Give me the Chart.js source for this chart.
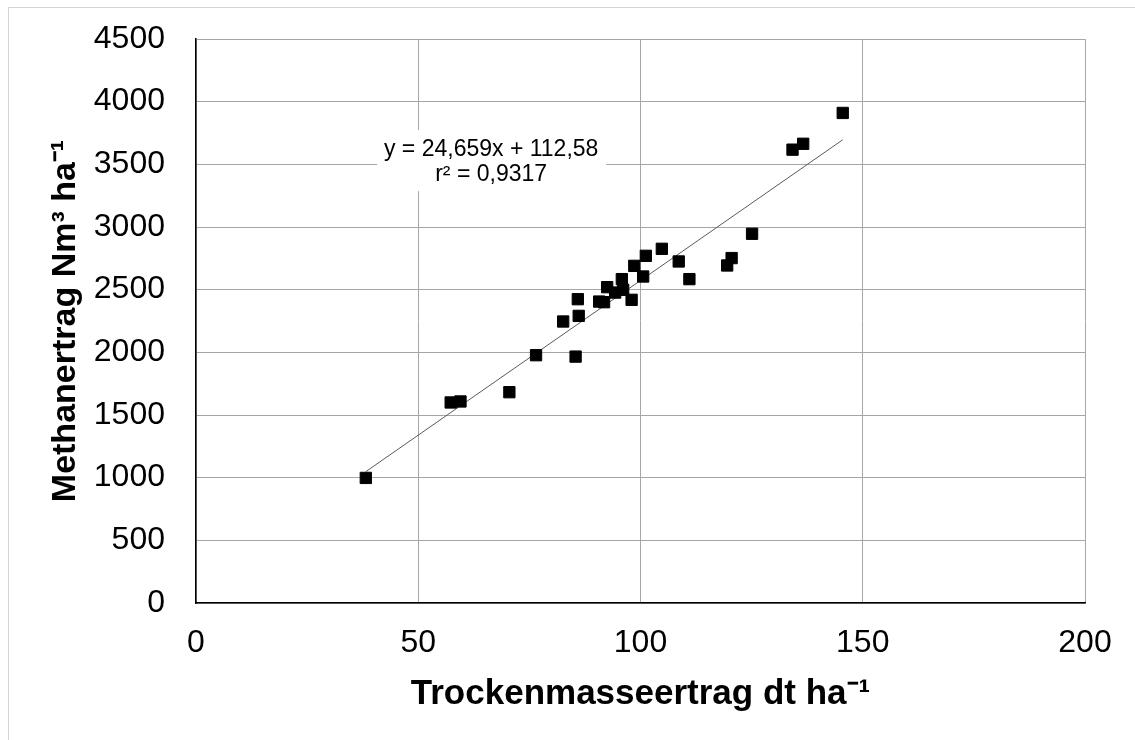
<!DOCTYPE html>
<html>
<head>
<meta charset="utf-8">
<script src="https://cdn.jsdelivr.net/npm/chart.js@4/dist/chart.umd.min.js"></script>
<style>
  html, body { margin: 0; padding: 0; background: #fff; }
</style>
</head>
<body>
<canvas id="methanChart" width="1135" height="740"></canvas>
<script>
// values
const dryMass = [38.2, 57.3, 59.5, 70.5, 76.5, 85.4, 82.6, 86.1, 85.9, 90.7, 91.8, 92.5, 94.3, 95.8,
  96.1, 98.0, 98.6, 100.6, 101.2, 104.8, 108.6, 111.0, 119.5, 120.5, 125.1, 134.2, 136.6, 145.5];
const methaneYield = [998, 1600, 1608, 1682, 1977, 1966, 2246, 2291, 2424, 2405, 2400, 2520, 2477, 2584,
  2499, 2419, 2690, 2605, 2770, 2826, 2725, 2584, 2693, 2752, 2946, 3617, 3664, 3910];
const trendX = [38.2, 145.5];
const trendY = [1048, 3696];
const xTicks = [0, 50, 100, 150, 200];
const yTicks = [0, 500, 1000, 1500, 2000, 2500, 3000, 3500, 4000, 4500];
const equationLines = ["y = 24,659x + 112,58", "r² = 0,9317"];

const FONT = "'Liberation Sans', Arial, sans-serif";

const points = dryMass.map((x, i) => ({ x: x, y: methaneYield[i] }));
const trend = trendX.map((x, i) => ({ x: x, y: trendY[i] }));

// white box with the regression equation
const equationBox = {
  id: "equationBox",
  beforeDatasetsDraw(chart) {
    const ctx = chart.ctx;
    const cx = chart.scales.x.getPixelForValue(66.4);
    const cy = chart.scales.y.getPixelForValue(3525);
    ctx.save();
    ctx.fillStyle = "#fff";
    ctx.fillRect(cx - 114, cy - 31, 229, 61);
    ctx.fillStyle = "#000";
    ctx.font = "23px " + FONT;
    ctx.textAlign = "center";
    ctx.textBaseline = "middle";
    ctx.fillText(equationLines[0], cx, cy - 12);
    ctx.fillText(equationLines[1], cx, cy + 13);
    ctx.restore();
  }
};

// thin outer frame (left and top edges visible)
const outerFrame = {
  id: "outerFrame",
  afterDraw(chart) {
    const ctx = chart.ctx;
    ctx.save();
    ctx.strokeStyle = "#d4d4d4";
    ctx.lineWidth = 1;
    ctx.beginPath();
    ctx.moveTo(8.5, 740);
    ctx.lineTo(8.5, 7.5);
    ctx.lineTo(1135, 7.5);
    ctx.stroke();
    ctx.restore();
  }
};

const data = {
  datasets: [
    {
      label: "Messwerte",
      data: points,
      pointStyle: "rect",
      pointRadius: 8,
      pointHoverRadius: 8,
      pointBackgroundColor: "#000",
      pointBorderColor: "#000",
      pointBorderWidth: 1,
      showLine: false,
    },
    {
      label: "Trend",
      type: "line",
      data: trend,
      borderColor: "#5a5a5a",
      borderWidth: 1,
      pointRadius: 0,
      fill: false,
    },
  ],
};

const options = {
  responsive: false,
  animation: false,
  layout: { padding: { top: 39, right: 50, left: 0, bottom: 0 } },
  plugins: { legend: { display: false }, tooltip: { enabled: false } },
  scales: {
    x: {
      type: "linear",
      min: 0,
      max: 200,
      afterBuildTicks: (s) => { s.ticks = xTicks.map((v) => ({ value: v })); },
      afterFit: (s) => { s.height = 137; },
      grid: { color: "#a6a6a6", drawTicks: false },
      border: { color: "#000", width: 1.5 },
      ticks: { color: "#000", padding: 21, font: { family: FONT, size: 32 }, callback: (v) => String(v) },
      title: {
        display: true,
        text: "Trockenmasseertrag dt ha⁻¹",
        color: "#000",
        padding: { top: 0, bottom: 25 },
        font: { family: FONT, size: 35, weight: "bold" },
      },
    },
    y: {
      type: "linear",
      min: 0,
      max: 4500,
      afterBuildTicks: (s) => { s.ticks = yTicks.map((v) => ({ value: v })); },
      afterFit: (s) => { s.width = 196; s.paddingTop = 0; s.paddingBottom = 0; },
      grid: { color: "#a6a6a6", drawTicks: false },
      border: { color: "#000", width: 1.5 },
      ticks: { color: "#000", padding: 31, font: { family: FONT, size: 32 }, callback: (v) => String(v) },
      title: {
        display: true,
        text: "Methanertrag Nm³ ha⁻¹",
        color: "#000",
        padding: { top: 45, bottom: 0 },
        font: { family: FONT, size: 34, weight: "bold" },
      },
    },
  },
};

const chart = new Chart(document.getElementById("methanChart"), {
  type: "scatter",
  data: data,
  options: options,
  plugins: [equationBox, outerFrame],
});
</script>
</body>
</html>
